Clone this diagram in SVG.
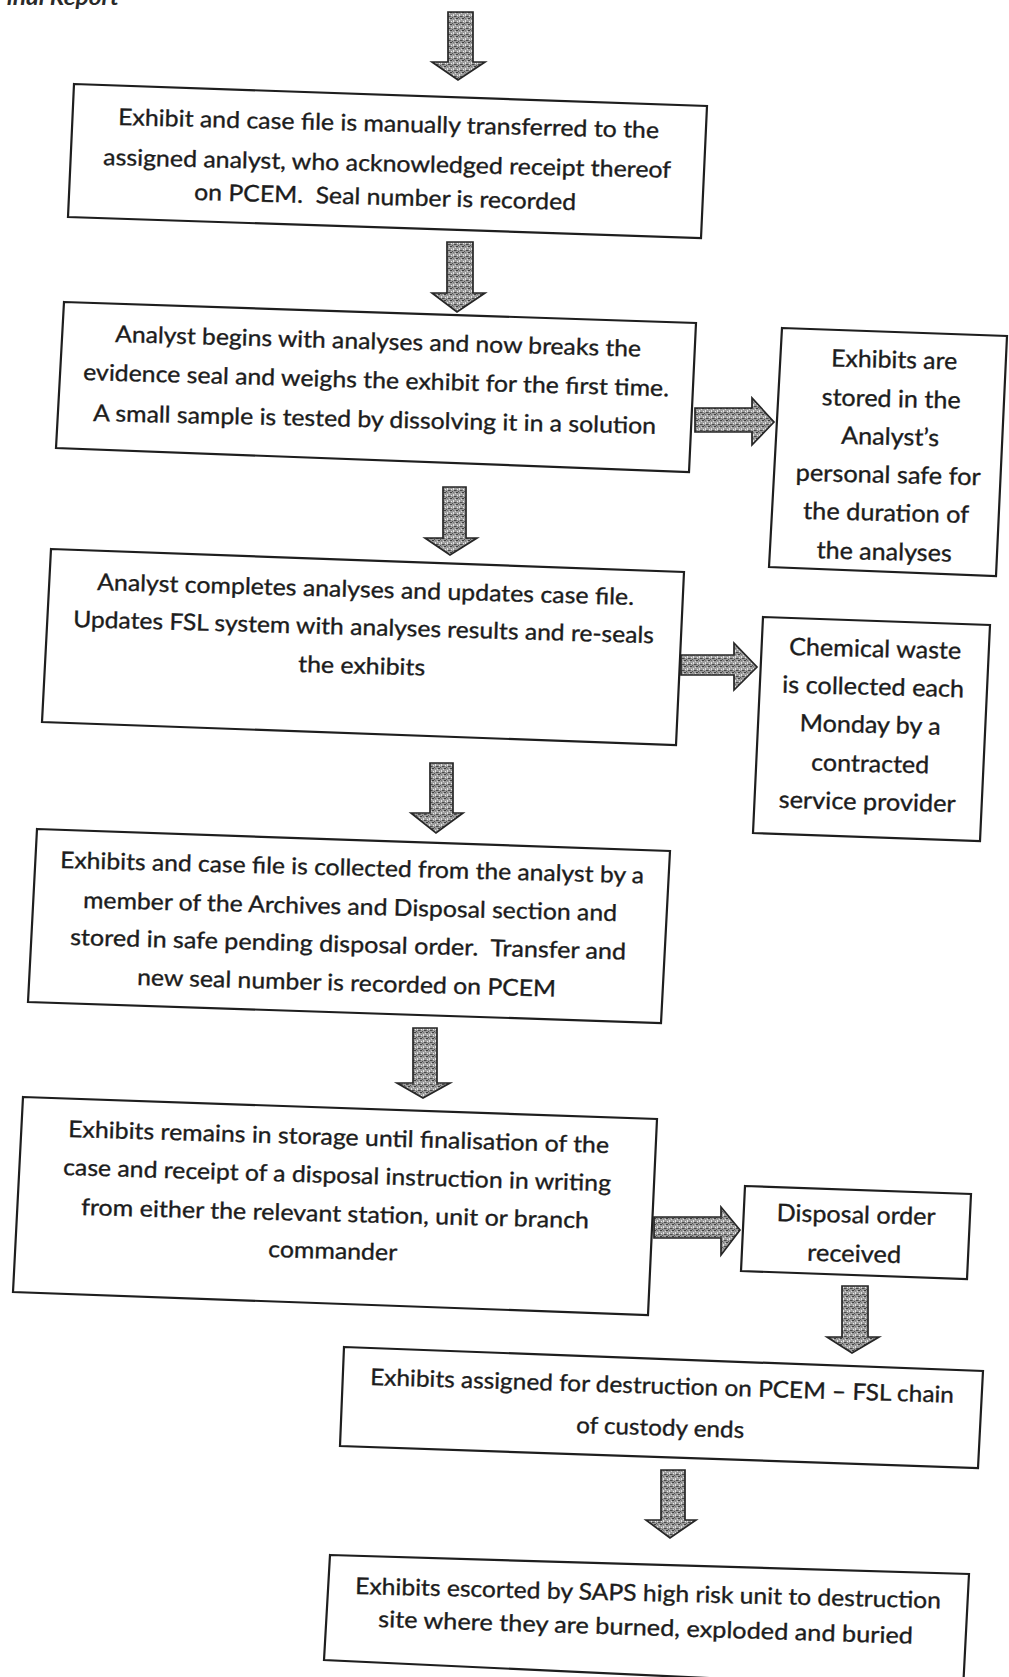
<svg xmlns="http://www.w3.org/2000/svg" width="1009" height="1677" viewBox="0 0 1009 1677">
<defs>
<pattern id="stip" width="6" height="6" patternUnits="userSpaceOnUse">
<rect width="6" height="6" fill="#9c9c9c"/>
<rect x="0" y="0" width="2" height="1" fill="#3f3f3f"/>
<rect x="3" y="2" width="1" height="2" fill="#e2e2e2"/>
<rect x="4" y="4" width="2" height="1" fill="#4a4a4a"/>
<rect x="1" y="3" width="1" height="1" fill="#eaeaea"/>
<rect x="2" y="5" width="1" height="1" fill="#555"/>
<rect x="5" y="1" width="1" height="1" fill="#d8d8d8"/>
<rect x="0" y="4" width="1" height="1" fill="#666"/>
<rect x="3" y="0" width="1" height="1" fill="#777"/>
</pattern>
<style>
.box{fill:#fff;stroke:#1e1e1e;stroke-width:2.2;stroke-linejoin:miter}
.arr{fill:url(#stip);stroke:#262626;stroke-width:1.7;stroke-linejoin:miter}
.t{font-family:Lato,'Open Sans',sans-serif;font-size:23px;fill:#1c1c1c;stroke:#1c1c1c;stroke-width:0.35}
.r{font-family:Lato,'Open Sans',sans-serif;font-size:24px;fill:#1c1c1c;stroke:#1c1c1c;stroke-width:0.35;text-anchor:middle}
.hdr{font-family:Lato,'Open Sans',sans-serif;font-size:21px;font-weight:bold;font-style:italic;fill:#2a2a2a}
</style>
</defs>
<rect width="1009" height="1677" fill="#fff"/>
<text class="hdr" x="-6" y="5" textLength="125" lengthAdjust="spacingAndGlyphs">Final Report</text>

<g id="connectors">
<path class="arr" d="M448,12 H473 V62 H485 L458,80 L432,62 H448 Z"/>
<path class="arr" d="M447,242 H473 V293 H485 L457,312 L432,293 H447 Z"/>
<path class="arr" d="M443,487 H466 V538 H477 L450,555 L425,538 H443 Z"/>
<path class="arr" d="M430,763 H453 V813 H463 L436,833 L411,813 H430 Z"/>
<path class="arr" d="M413,1028 H437 V1083 H450 L423,1098 L397,1083 H413 Z"/>
<path class="arr" d="M842,1286 H868 V1337 H879 L852,1353 L827,1337 H842 Z"/>
<path class="arr" d="M661,1470 H685 V1520 H696 L670,1538 L646,1520 H661 Z"/>
<path class="arr" d="M695,408 H752 V398 L774,422 L752,445 V432 H695 Z"/>
<path class="arr" d="M681,655 H734 V643 L757,667 L734,690 V675 H681 Z"/>
<path class="arr" d="M654,1217 H721 V1207 L740,1230 L721,1255 V1238 H654 Z"/>
</g>

<g id="node1">
<polygon class="box" points="74,84 707,106 701,238 68,217"/>
<text class="t" x="118" y="125" textLength="541" lengthAdjust="spacingAndGlyphs" transform="rotate(1.4 118 125)">Exhibit and case file is manually transferred to the</text>
<text class="t" x="103" y="165" textLength="568" lengthAdjust="spacingAndGlyphs" transform="rotate(1.3 103 165)">assigned analyst, who acknowledged receipt thereof</text>
<text class="t" x="194" y="200" textLength="382" lengthAdjust="spacingAndGlyphs" transform="rotate(1.5 194 200)">on PCEM.&#160; Seal number is recorded</text>
</g>

<g id="node2">
<polygon class="box" points="64,302 696,323 689,472 56,448"/>
<text class="t" x="115" y="342" textLength="526" lengthAdjust="spacingAndGlyphs" transform="rotate(1.6 115 342)">Analyst begins with analyses and now breaks the</text>
<text class="t" x="83" y="380" textLength="586" lengthAdjust="spacingAndGlyphs" transform="rotate(1.6 83 380)">evidence seal and weighs the exhibit for the first time.</text>
<text class="t" x="93" y="421" textLength="563" lengthAdjust="spacingAndGlyphs" transform="rotate(1.3 93 421)">A small sample is tested by dissolving it in a solution</text>
</g>

<g id="node2b">
<polygon class="box" points="782,328 1007,336 996,576 769,567"/>
<text class="r" x="894" y="368" textLength="126" lengthAdjust="spacingAndGlyphs" transform="rotate(1.4 894 368)">Exhibits are</text>
<text class="r" x="891" y="407" textLength="139" lengthAdjust="spacingAndGlyphs" transform="rotate(1.4 891 407)">stored in the</text>
<text class="r" x="890" y="445" textLength="98" lengthAdjust="spacingAndGlyphs" transform="rotate(1.4 890 445)">Analyst’s</text>
<text class="r" x="888" y="483" textLength="185" lengthAdjust="spacingAndGlyphs" transform="rotate(1.4 888 483)">personal safe for</text>
<text class="r" x="886" y="521" textLength="166" lengthAdjust="spacingAndGlyphs" transform="rotate(1.4 886 521)">the duration of</text>
<text class="r" x="884" y="560" textLength="135" lengthAdjust="spacingAndGlyphs" transform="rotate(1.4 884 560)">the analyses</text>
</g>

<g id="node3">
<polygon class="box" points="51,549 684,572 676,745 42,722"/>
<text class="t" x="97" y="590" textLength="537" lengthAdjust="spacingAndGlyphs" transform="rotate(1.6 97 590)">Analyst completes analyses and updates case file.</text>
<text class="t" x="73" y="627" textLength="581" lengthAdjust="spacingAndGlyphs" transform="rotate(1.6 73 627)">Updates FSL system with analyses results and re-seals</text>
<text class="t" x="298" y="672" textLength="127" lengthAdjust="spacingAndGlyphs" transform="rotate(1.6 298 672)">the exhibits</text>
</g>

<g id="node3b">
<polygon class="box" points="763,617 990,625 980,841 753,833"/>
<text class="r" x="875" y="657" textLength="172" lengthAdjust="spacingAndGlyphs" transform="rotate(1.4 875 657)">Chemical waste</text>
<text class="r" x="873" y="695" textLength="182" lengthAdjust="spacingAndGlyphs" transform="rotate(1.4 873 695)">is collected each</text>
<text class="r" x="870" y="733" textLength="141" lengthAdjust="spacingAndGlyphs" transform="rotate(1.4 870 733)">Monday by a</text>
<text class="r" x="870" y="772" textLength="118" lengthAdjust="spacingAndGlyphs" transform="rotate(1.4 870 772)">contracted</text>
<text class="r" x="867" y="810" textLength="177" lengthAdjust="spacingAndGlyphs" transform="rotate(1.4 867 810)">service provider</text>
</g>

<g id="node4">
<polygon class="box" points="37,829 670,851 661,1023 28,1002"/>
<text class="t" x="60" y="868" textLength="584" lengthAdjust="spacingAndGlyphs" transform="rotate(1.5 60 868)">Exhibits and case file is collected from the analyst by a</text>
<text class="t" x="83" y="908" textLength="534" lengthAdjust="spacingAndGlyphs" transform="rotate(1.4 83 908)">member of the Archives and Disposal section and</text>
<text class="t" x="70" y="945" textLength="556" lengthAdjust="spacingAndGlyphs" transform="rotate(1.5 70 945)">stored in safe pending disposal order.&#160; Transfer and</text>
<text class="t" x="137" y="985" textLength="419" lengthAdjust="spacingAndGlyphs" transform="rotate(1.6 137 985)">new seal number is recorded on PCEM</text>
</g>

<g id="node5">
<polygon class="box" points="23,1097 657,1119 648,1315 13,1292"/>
<text class="t" x="68" y="1137" textLength="541" lengthAdjust="spacingAndGlyphs" transform="rotate(1.7 68 1137)">Exhibits remains in storage until finalisation of the</text>
<text class="t" x="63" y="1175" textLength="548" lengthAdjust="spacingAndGlyphs" transform="rotate(1.7 63 1175)">case and receipt of a disposal instruction in writing</text>
<text class="t" x="81" y="1215" textLength="508" lengthAdjust="spacingAndGlyphs" transform="rotate(1.5 81 1215)">from either the relevant station, unit or branch</text>
<text class="t" x="268" y="1257" textLength="129" lengthAdjust="spacingAndGlyphs" transform="rotate(1.6 268 1257)">commander</text>
</g>

<g id="node5b">
<polygon class="box" points="745,1186 971,1194 967,1279 741,1271"/>
<text class="r" x="856" y="1223" textLength="159" lengthAdjust="spacingAndGlyphs" transform="rotate(1.4 856 1223)">Disposal order</text>
<text class="r" x="854" y="1262" textLength="94" lengthAdjust="spacingAndGlyphs" transform="rotate(1.4 854 1262)">received</text>
</g>

<g id="node6">
<polygon class="box" points="344,1347 983,1371 978,1468 340,1446"/>
<text class="t" x="370" y="1385" textLength="584" lengthAdjust="spacingAndGlyphs" transform="rotate(1.75 370 1385)">Exhibits assigned for destruction on PCEM – FSL chain</text>
<text class="t" x="576" y="1433" textLength="168" lengthAdjust="spacingAndGlyphs" transform="rotate(1.7 576 1433)">of custody ends</text>
</g>

<g id="node7">
<polygon class="box" points="330,1555 969,1574 963,1690 324,1660"/>
<text class="t" x="355" y="1594" textLength="586" lengthAdjust="spacingAndGlyphs" transform="rotate(1.4 355 1594)">Exhibits escorted by SAPS high risk unit to destruction</text>
<text class="t" x="378" y="1627" textLength="535" lengthAdjust="spacingAndGlyphs" transform="rotate(1.8 378 1627)">site where they are burned, exploded and buried</text>
</g>
</svg>
